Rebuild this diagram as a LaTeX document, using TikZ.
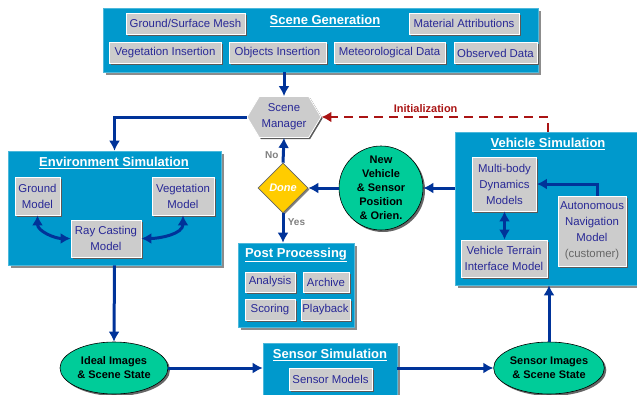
\documentclass[tikz,border=0pt]{standalone}
\usepackage{fontspec}
\setmainfont{Liberation Sans}
\usetikzlibrary{arrows.meta, shapes.geometric, shapes.symbols, shadows}

\definecolor{panelblue}{RGB}{0,153,204}
\definecolor{boxgray}{RGB}{204,204,204}
\definecolor{labelblue}{RGB}{40,40,150}
\definecolor{flowblue}{RGB}{0,51,153}
\definecolor{stategreen}{RGB}{0,204,153}
\definecolor{doneyellow}{RGB}{255,204,0}
\definecolor{initred}{RGB}{170,20,20}

\begin{document}
\begin{tikzpicture}[x = 1pt, y = -1pt, > = {Latex[length = 10pt, width = 11pt]},
    panel/.style = {fill = panelblue, draw = panelblue!70!white, line width = 0.6pt,
        inner sep = 0pt, drop shadow = {shadow xshift = 3pt, shadow yshift = -3pt,
        fill = black!45, opacity = 1}},
    paneltitle/.style = {text = white, inner sep = 0pt,
        font = \fontsize{13}{15}\selectfont\bfseries},
    subbox/.style = {fill = boxgray, draw = white, line width = 0.8pt, inner sep = 0pt,
        text = labelblue, align = center, font = \fontsize{11.4}{16}\selectfont,
        drop shadow = {shadow xshift = 1.5pt, shadow yshift = -1.5pt,
        fill = black!65, opacity = 1}},
    statenode/.style = {fill = stategreen, draw = black, line width = 0.6pt, inner sep = 0pt,
        align = center, font = \fontsize{11}{14}\selectfont\bfseries,
        drop shadow = {shadow xshift = 2pt, shadow yshift = -2pt, fill = black!60, opacity = 1}},
    flow/.style = {draw = flowblue, line width = 3pt},
    flowlabel/.style = {text = black!50, font = \fontsize{10}{12}\selectfont\bfseries}]

    \clip (0, 0) rectangle (637, 394);

    % Scene generation panel and its inputs.
    \node[panel, minimum width = 435, minimum height = 64] (scenegen) at (320.5, 40) {};
    \node[paneltitle] (gentitle) at (325, 21) {\underline{Scene Generation}};
    \node[subbox, minimum width = 119, minimum height = 21] (mesh) at (185.5, 23.5) {Ground/Surface Mesh};
    \node[subbox, minimum width = 110, minimum height = 21] (material) at (464, 23.5) {Material Attributions};
    \node[subbox, minimum width = 112, minimum height = 21] (veginsert) at (165, 53) {Vegetation Insertion};
    \node[subbox, minimum width = 97, minimum height = 21] (objinsert) at (277.5, 53) {Objects Insertion};
    \node[subbox, minimum width = 111, minimum height = 21] (meteo) at (389.5, 53) {Meteorological Data};
    \node[subbox, minimum width = 83, minimum height = 21] (observed) at (495.5, 53) {Observed Data};

    % Scene manager and the done test.
    \node[subbox, shape = signal, signal to = west and east, signal pointer angle = 118,
        minimum width = 74, minimum height = 41] (manager) at (284, 117) {Scene\\Manager};
    \node[diamond, fill = doneyellow, draw = black!60, line width = 0.6pt, inner sep = 0pt,
        minimum width = 50, minimum height = 50, text = white,
        font = \fontsize{11}{13}\selectfont\bfseries\itshape,
        drop shadow = {shadow xshift = 1.5pt, shadow yshift = -1.5pt, fill = black!50, opacity = 1}]
        (done) at (283, 188) {Done};

    % Environment simulation panel.
    \node[panel, minimum width = 213, minimum height = 114] (envsim) at (114.5, 208) {};
    \node[paneltitle] (envtitle) at (114, 163) {\underline{Environment Simulation}};
    \node[subbox, minimum width = 45, minimum height = 38] (ground) at (37.5, 196) {Ground\\Model};
    \node[subbox, minimum width = 62, minimum height = 38] (vegetation) at (183, 196) {Vegetation\\Model};
    \node[subbox, minimum width = 70, minimum height = 37] (raycast) at (106, 238.5) {Ray Casting\\Model};

    % Post processing panel.
    \node[panel, minimum width = 116, minimum height = 84] (post) at (296, 285) {};
    \node[paneltitle] (posttitle) at (296, 255) {\underline{Post Processing}};
    \node[subbox, minimum width = 50, minimum height = 20] (analysis) at (270, 282) {Analysis};
    \node[subbox, minimum width = 46, minimum height = 20] (archive) at (326, 282) {Archive};
    \node[subbox, minimum width = 50, minimum height = 21] (scoring) at (270, 309.5) {Scoring};
    \node[subbox, minimum width = 49, minimum height = 21] (playback) at (325.5, 309.5) {Playback};

    % Vehicle simulation panel.
    \node[panel, minimum width = 192, minimum height = 153] (vehsim) at (551, 208.5) {};
    \node[paneltitle] (vehtitle) at (548, 144) {\underline{Vehicle Simulation}};
    \node[subbox, minimum width = 64, minimum height = 54] (multibody) at (504.5, 184) {Multi-body\\Dynamics\\Models};
    \node[subbox, minimum width = 86, minimum height = 37] (terrain) at (504, 258.5) {Vehicle Terrain\\Interface Model};
    \node[subbox, minimum width = 68, minimum height = 70] (autonav) at (592, 231)
        {Autonomous\\Navigation\\Model\\{\color{black!60}(customer)}};

    % New vehicle state.
    \node[statenode, circle, minimum size = 84] (newstate) at (381, 188)
        {New\\Vehicle\\\& Sensor\\Position\\\& Orien.};

    % Sensor simulation and the image states.
    \node[statenode, ellipse, minimum width = 108, minimum height = 52] (ideal) at (114, 368)
        {Ideal Images\\\& Scene State};
    \node[panel, minimum width = 134, minimum height = 60] (sensim) at (330, 373) {};
    \node[paneltitle] (sentitle) at (330, 355) {\underline{Sensor Simulation}};
    \node[subbox, minimum width = 83, minimum height = 22] (sensmodels) at (330.5, 379) {Sensor Models};
    \node[statenode, ellipse, minimum width = 110, minimum height = 52] (sensimg) at (549, 368)
        {Sensor Images\\\& Scene State};

    % Main flow.
    \draw[flow, ->] (manager.north |- scenegen.south) to (manager.north);
    \draw[flow, ->] (manager.west) -| (envsim.north);
    \draw[flow, ->] (done.north) to node[pos = 0.3, left, flowlabel] (nolabel) {No} (manager.south);
    \draw[flow, ->] (done.south) to node[pos = 0.3, right, flowlabel] (yeslabel) {Yes} (done.south |- post.north);
    \draw[flow, ->] (newstate.east -| vehsim.west) to (newstate.east);
    \draw[flow, ->] (newstate.west) to (done.east);
    \draw[flow, ->] (envsim.south) to (ideal.north);
    \draw[flow, ->] (ideal.east) to (ideal.east -| sensim.west);
    \draw[flow, ->] (sensim.east |- sensimg.west) to (sensimg.west);
    \draw[flow, ->] (sensimg.north) to (sensimg.north |- vehsim.south);

    % Links inside the panels.
    \draw[flow, <->] (ground.south) to[out = -90, in = 180] (raycast.west);
    \draw[flow, <->] (vegetation.south) to[out = -90, in = 0] (raycast.east);
    \draw[flow, ->] ([xshift = 5pt]autonav.north) |- (multibody.east);
    \draw[flow, <->] (multibody.south) to (multibody.south |- terrain.north);

    % Initialization feedback.
    \draw[draw = initred, line width = 2pt, dash pattern = on 9pt off 6pt, ->]
        (vehsim.north -| vehtitle.north) |- node[pos = 0.77, above, text = initred,
        font = \fontsize{11}{13}\selectfont\bfseries] (initlabel) {Initialization} (manager.east);
\end{tikzpicture}
\end{document}
